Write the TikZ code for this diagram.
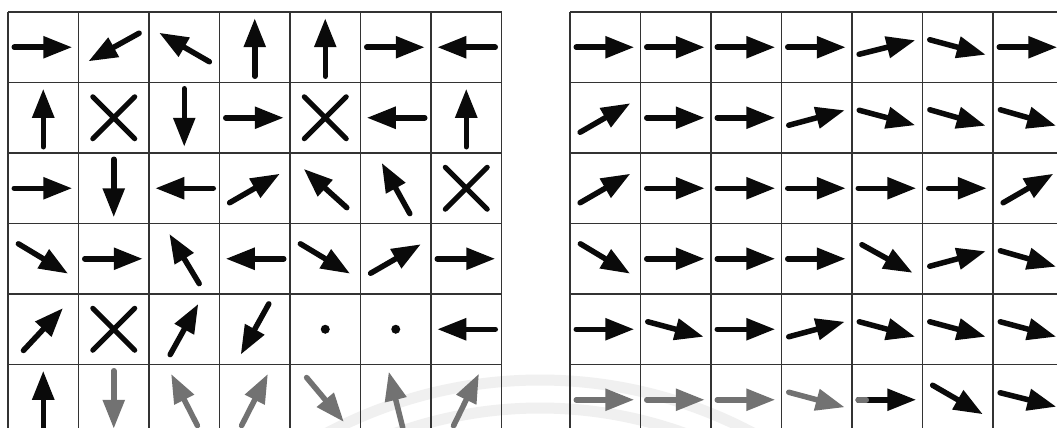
\documentclass[tikz,border=0pt]{standalone}
\usepackage{tikz}
\usetikzlibrary{arrows.meta,calc}
\definecolor{ink}{HTML}{0A0A0A}
\definecolor{gridgray}{HTML}{333333}
\definecolor{fadegray}{HTML}{727272}
\definecolor{markgray}{HTML}{F0F0F0}
\definecolor{paper}{HTML}{FFFFFF}
\tikzset{
  vec/.style={-{Triangle[length=29pt,width=21pt]},line width=5.5pt,line cap=round,color=ink},
  crossline/.style={line width=5pt,line cap=round,color=ink},
  gridline/.style={gridgray,line width=1.4pt},
  wmark/.style={markgray,line width=11pt}
}

\begin{document}
\begin{tikzpicture}[x=1pt,y=-1pt]
  \useasboundingbox (0,0) rectangle (1057,428);
  \clip (0,0) rectangle (1057,428);
  \fill[paper] (0,0) rectangle (1057,428);
  \draw[wmark] (540,834) ++(-125:454) arc[start angle=-125,end angle=-55,radius=454];
  \draw[wmark] (540,834) ++(-125:426) arc[start angle=-125,end angle=-55,radius=426];
  \foreach \g in {8,570} {
    \foreach \i in {0,...,7}
      \draw[gridline] (\g+70.5*\i,12) -- (\g+70.5*\i,440);
    \foreach \j in {0,...,6}
      \draw[gridline] (\g,12+70.5*\j) -- (\g+70.5*7,12+70.5*\j);
  }
  % left field: 999 = cross, 888 = dot
  \foreach \r/\angles in {0/{0,209,150,90,90,0,180},1/{90,999,270,0,999,180,90},
      2/{0,270,180,30,138,119,999},3/{-31,0,121,180,-31,30,0},4/{47,999,61,241,888,888,180}} {
    \foreach \a [count=\c from 0] in \angles {
      \coordinate (cc) at (8+70.5*\c+35.25,12+70.5*\r+35.25);
      \ifnum\a=999
        \draw[crossline] ($(cc)+(-21,-21)$) -- ($(cc)+(21,21)$) ($(cc)+(-21,21)$) -- ($(cc)+(21,-21)$);
      \else\ifnum\a=888
        \fill[ink] (cc) circle[radius=4.5];
      \else
        \draw[vec] ([shift={(180-\a:29)}]cc) -- ++(-\a:58);
      \fi\fi
    }
  }
  \foreach \a/\tone [count=\c from 0] in {90/ink,270/fadegray,117/fadegray,63/fadegray,-50/fadegray,104/fadegray,64/fadegray} {
    \coordinate (cc) at (8+70.5*\c+35.25,399.75);
    \draw[vec,color=\tone] ([shift={(180-\a:29)}]cc) -- ++(-\a:58);
  }
  % right field
  \foreach \r/\angles in {0/{0,0,0,0,14,-15,0},1/{30,0,0,15,-15,-16,-16},
      2/{30,0,0,0,0,0,30},3/{-31,0,0,0,-29,15,-16},4/{0,-15,0,15,-15,-15,-15}} {
    \foreach \a [count=\c from 0] in \angles {
      \coordinate (cc) at (570+70.5*\c+35.25,12+70.5*\r+35.25);
      \draw[vec] ([shift={(180-\a:29)}]cc) -- ++(-\a:58);
    }
  }
  \foreach \a/\tone [count=\c from 0] in {0/fadegray,0/fadegray,0/fadegray,-15/fadegray,0/ink,-30/ink,-14/ink} {
    \coordinate (cc) at (570+70.5*\c+35.25,399.75);
    \draw[vec,color=\tone] ([shift={(180-\a:29)}]cc) -- ++(-\a:58);
  }
  \draw[fadegray,line width=5.5pt,line cap=round] (858.25,399.75) -- ++(8,0);
\end{tikzpicture}
\end{document}
